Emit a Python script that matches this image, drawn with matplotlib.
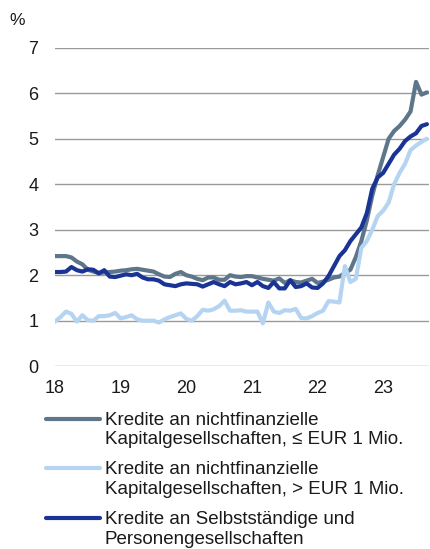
import numpy as np
import matplotlib
matplotlib.use("Agg")
import matplotlib.pyplot as plt
from matplotlib.lines import Line2D

plt.rcParams['font.family'] = ['Liberation Sans', 'DejaVu Sans']

# monthly values, Jan 2018 - Sep 2023
small_nfc = [2.42, 2.42, 2.42, 2.39, 2.30, 2.24, 2.12, 2.08, 2.05, 2.06, 2.07, 2.08,
             2.10, 2.11, 2.13, 2.14, 2.12, 2.10, 2.08, 2.02, 1.97, 1.96, 2.03, 2.07,
             2.00, 1.97, 1.92, 1.89, 1.95, 1.95, 1.90, 1.90, 2.00, 1.97, 1.96, 1.98,
             1.98, 1.95, 1.92, 1.90, 1.88, 1.93, 1.83, 1.89, 1.85, 1.84, 1.88, 1.92,
             1.83, 1.86, 1.90, 1.95, 1.97, 2.05, 2.12, 2.40, 2.75, 3.20, 3.75, 4.20,
             4.60, 5.00, 5.17, 5.28, 5.42, 5.60, 6.25, 5.97, 6.02]
large_nfc = [0.98, 1.08, 1.20, 1.15, 0.98, 1.12, 1.01, 1.00, 1.10, 1.10, 1.12, 1.17,
             1.05, 1.08, 1.12, 1.03, 1.00, 1.00, 1.00, 0.96, 1.03, 1.08, 1.12, 1.16,
             1.04, 1.00, 1.10, 1.24, 1.22, 1.25, 1.32, 1.44, 1.22, 1.22, 1.23, 1.20,
             1.20, 1.20, 0.94, 1.40, 1.20, 1.17, 1.23, 1.22, 1.26, 1.06, 1.05, 1.10,
             1.17, 1.22, 1.43, 1.42, 1.40, 2.20, 1.85, 1.92, 2.60, 2.75, 3.00, 3.30,
             3.42, 3.60, 4.00, 4.25, 4.45, 4.75, 4.85, 4.93, 5.00]
self_employed = [2.07, 2.07, 2.08, 2.18, 2.11, 2.08, 2.13, 2.12, 2.04, 2.11, 1.97, 1.96,
                 1.99, 2.02, 2.00, 2.03, 1.95, 1.91, 1.91, 1.88, 1.80, 1.78, 1.76, 1.80,
                 1.82, 1.81, 1.80, 1.75, 1.80, 1.85, 1.80, 1.76, 1.85, 1.80, 1.82, 1.85,
                 1.78, 1.85, 1.76, 1.72, 1.85, 1.71, 1.71, 1.89, 1.74, 1.76, 1.82, 1.73,
                 1.72, 1.82, 1.98, 2.20, 2.42, 2.55, 2.75, 2.90, 3.05, 3.36, 3.90, 4.15,
                 4.25, 4.45, 4.65, 4.78, 4.95, 5.05, 5.12, 5.28, 5.32]

labels = ["Kredite an nichtfinanzielle\nKapitalgesellschaften, ≤ EUR 1 Mio.",
          "Kredite an nichtfinanzielle\nKapitalgesellschaften, > EUR 1 Mio.",
          "Kredite an Selbstständige und\nPersonengesellschaften"]
colors = ["#5e7689", "#b5d4f1", "#1a3496"]
year_ticks = [18, 19, 20, 21, 22, 23]

x = 18 + np.arange(len(small_nfc)) / 12

fig = plt.figure(figsize=(4.30, 5.49), dpi=100)
ax = fig.add_axes([0.128, 0.333, 0.870, 0.580])

for y, c in zip([small_nfc, large_nfc, self_employed], colors):
    ax.plot(x, y, color=c, lw=3.0, solid_capstyle='round', solid_joinstyle='round')

ax.set_xlim(18, 23.70)
ax.set_ylim(0, 7)
ax.set_yticks(range(8))
ax.set_xticks(year_ticks)
ax.set_xticklabels([str(t) for t in year_ticks])
ax.grid(axis='y', color='#9a9a9a', lw=1.0)
ax.set_axisbelow(True)
for s in ax.spines.values():
    s.set_visible(False)
ax.tick_params(length=0, labelsize=13, colors='#1a1a1a')
ax.tick_params(axis='x', pad=10)
ax.tick_params(axis='y', pad=12)

fig.text(0.022, 0.962, "%", fontsize=12.5, color='#1a1a1a', va='center')

# legend drawn by hand so the handle sits at the first text line
for i, (lab, c) in enumerate(zip(labels, colors)):
    yc = 418.5 + i * 49.5
    fig.add_artist(Line2D([46 / 430, 100 / 430], [1 - yc / 549, 1 - yc / 549], color=c, lw=3.0,
                          solid_capstyle='round', transform=fig.transFigure))
    for j, line in enumerate(lab.split("\n")):
        base = yc + 6.5 + j * 19.5
        fig.text(105 / 430, 1 - base / 549, line, fontsize=13.5, color='#1a1a1a',
                 va='baseline')

fig.savefig("out.png", dpi=100)
